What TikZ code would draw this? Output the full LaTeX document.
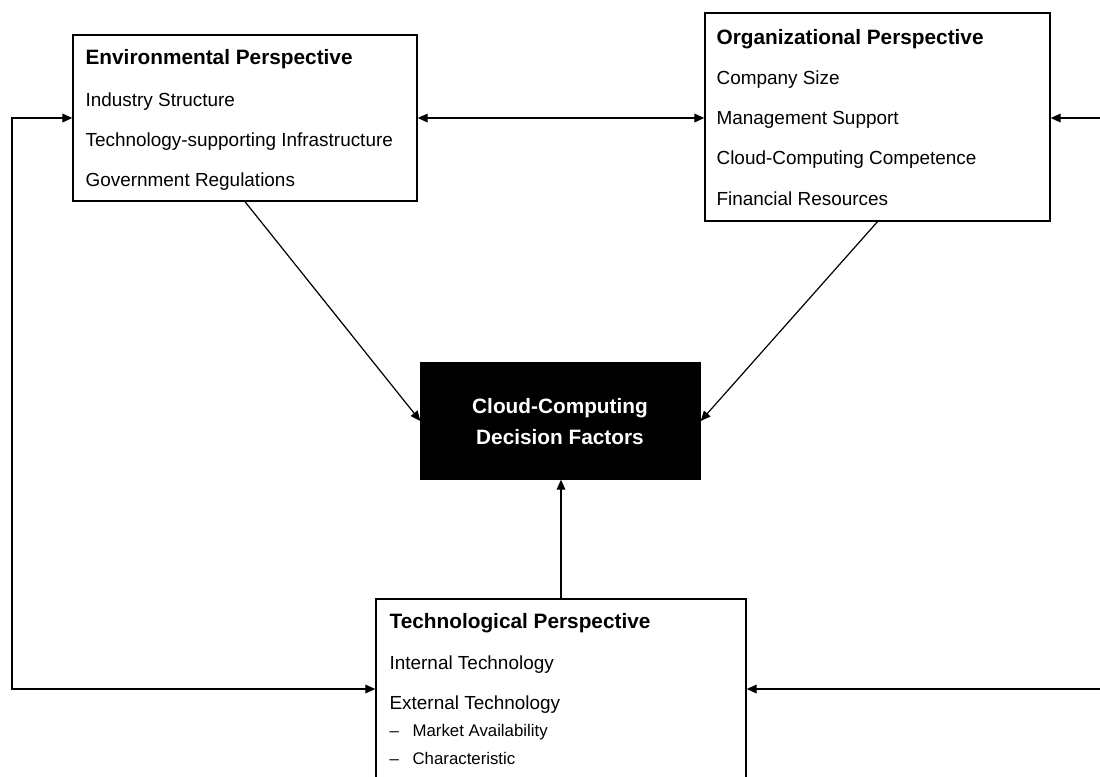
\documentclass[tikz,border=0pt]{standalone}
\usepackage{fontspec}
\setmainfont{Liberation Sans}
\usepackage{tikz}
\usetikzlibrary{arrows.meta,positioning,fit,calc}
\tikzset{>={Triangle[length=7.5pt,width=6.5pt]},
    panel/.style={draw, rectangle, inner sep=0pt, line width=1pt},
    head/.style={anchor=base west, inner sep=0pt, font=\fontsize{15.6}{18}\selectfont\bfseries},
    entry/.style={anchor=base west, inner sep=0pt, font=\fontsize{14.2}{17}\selectfont},
    subentry/.style={anchor=base west, inner sep=0pt, font=\fontsize{12.6}{15}\selectfont},
    coretext/.style={anchor=base, inner sep=0pt, text=white, font=\fontsize{15.6}{18}\selectfont\bfseries}}

\begin{document}
\begin{tikzpicture}[x=0.75pt, y=-0.75pt, line width=0.9pt]
    \useasboundingbox (0,0) rectangle (1100,776);
    \clip (0,0) rectangle (1100,776);

    % the four boxes
    \node[panel, fit={(73,35) (417,201)}] (env) {};
    \node[panel, fit={(705,13) (1050,221)}] (org) {};
    \node[panel, fill=black, fit={(421,363) (700,479)}] (core) {};
    \node[panel, fit={(376,599) (746,779)}] (tech) {};

    % environmental
    \node[head] (env-h) at (85,64) {Environmental Perspective};
    \foreach[count=\j] \txt in {Industry Structure, Technology-supporting Infrastructure, Government Regulations} {
        \node[entry] (env-\j) at (85,{66+40*\j}) {\txt};
    }

    % organizational
    \node[head] (org-h) at (716,44) {Organizational Perspective};
    \foreach[count=\j] \txt in {Company Size, Management Support, Cloud-Computing Competence, Financial Resources} {
        \node[entry] (org-\j) at (716,{44+40.3*\j}) {\txt};
    }

    % technological
    \node[head] (tech-h) at (389,628) {Technological Perspective};
    \node[entry] (tech-1) at (389,669) {Internal Technology};
    \node[entry] (tech-2) at (389,709) {External Technology};
    \foreach[count=\j] \txt in {Market Availability, Characteristic} {
        \node[subentry] (dash-\j) at (389,{708+28*\j}) {--};
        \node[subentry] (sub-\j) at (412,{708+28*\j}) {\txt};
    }

    % centre
    \node[coretext] (core-1) at (560,413) {Cloud-Computing};
    \node[coretext] (core-2) at (560,444) {Decision Factors};

    % connectors
    \coordinate (lft) at (12,0);
    \coordinate (rgt) at (1120,0);
    \draw[->] (env.south) -- (core.west);
    \draw[->] (org.south) -- (core.east);
    \draw[->] (tech.north) -- (tech.north |- core.south);
    \draw[<->] (env.east) -- (env.east -| org.west);
    \draw[<->] (env.west) -- (env.west -| lft) |- (tech.west);
    \draw[<->] (org.east |- env.east) -- (env.east -| rgt) |- (tech.east);
\end{tikzpicture}
\end{document}
